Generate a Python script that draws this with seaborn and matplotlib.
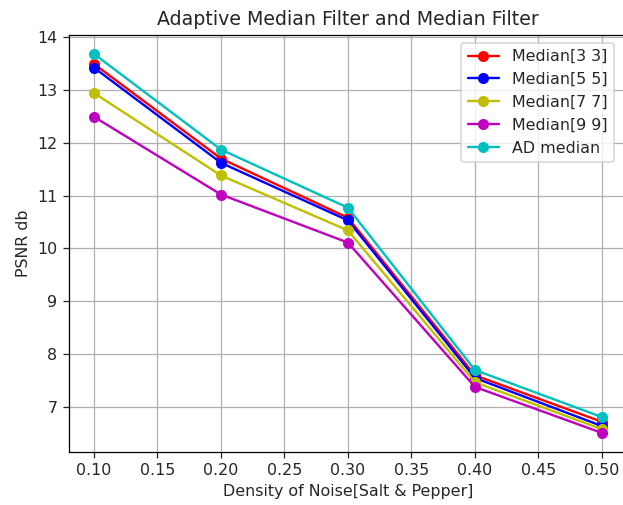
import matplotlib
matplotlib.use("Agg")
import matplotlib.pyplot as plt
import seaborn as sns
import pandas as pd

density = [0.1, 0.2, 0.3, 0.4, 0.5]
median_3 = [13.49, 11.70, 10.58, 7.60, 6.72]
median_5 = [13.42, 11.62, 10.53, 7.55, 6.64]
median_7 = [12.94, 11.38, 10.34, 7.47, 6.58]
median_9 = [12.49, 11.02, 10.11, 7.38, 6.51]
ad_median = [13.68, 11.87, 10.77, 7.70, 6.81]

series = ["Median[3 3]", "Median[5 5]", "Median[7 7]", "Median[9 9]", "AD median"]
values = [median_3, median_5, median_7, median_9, ad_median]
colors = ["#ff0000", "#0000ff", "#bfbf00", "#bf00bf", "#00bfbf"]

rows = []
for name, vals in zip(series, values):
    for d, v in zip(density, vals):
        rows.append({"density": d, "psnr": v, "series": name})
df = pd.DataFrame(rows)

sns.set_style("ticks")
plt.rcParams["font.family"] = ["DejaVu Sans"]

DPI = 114
fig = plt.figure(figsize=(623 / DPI, 505 / DPI), dpi=DPI)
ax = fig.add_axes([0.110, 0.105, 0.897, 0.826])
sns.lineplot(data=df, x="density", y="psnr", hue="series", palette=colors,
             hue_order=series, marker="o", markersize=7, markeredgewidth=0,
             linewidth=1.5, ax=ax)
ax.grid(True, color="#b0b0b0", linewidth=0.8)
ax.set_axisbelow(True)
ax.set_title("Adaptive Median Filter and Median Filter", fontsize=12)
ax.set_xlabel("Density of Noise[Salt & Pepper]", fontsize=10)
ax.set_ylabel("PSNR db", fontsize=10)
ax.set_xticks([0.1, 0.15, 0.2, 0.25, 0.3, 0.35, 0.4, 0.45, 0.5])
ax.set_xticklabels(["0.10", "0.15", "0.20", "0.25", "0.30", "0.35", "0.40", "0.45", "0.50"])
ax.set_xlim(0.08, 0.52)
ax.set_ylim(6.15, 14.04)
ax.tick_params(labelsize=10, direction="out", length=3.5, width=0.8)
for s in ax.spines.values():
    s.set_color("black")
    s.set_linewidth(0.8)
leg = ax.legend(loc="upper right", fontsize=10, frameon=True,
                bbox_to_anchor=(0.990, 1.0))
fig.savefig("out.png", dpi=DPI)
